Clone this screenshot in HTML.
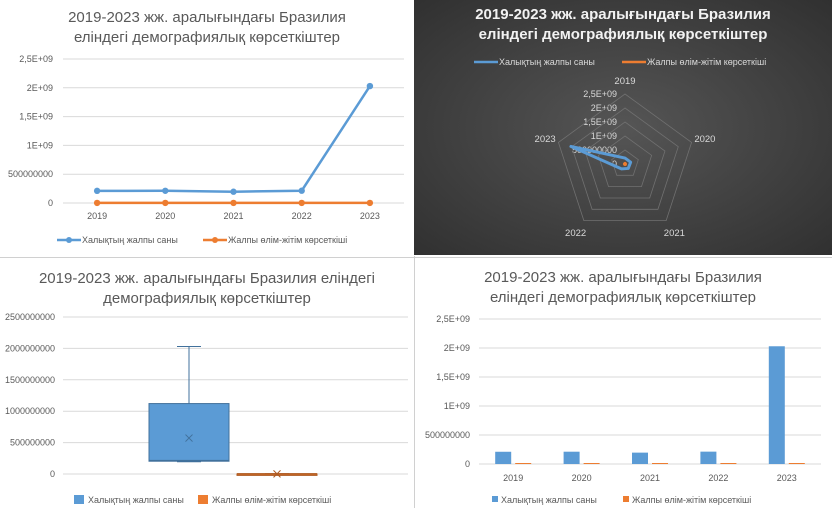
<!DOCTYPE html>
<html><head><meta charset="utf-8"><style>
body{margin:0;width:832px;height:508px;overflow:hidden;background:#fff}
svg{display:block;font-family:"Liberation Sans","DejaVu Sans",sans-serif}
</style></head><body>
<svg id="s" width="832" height="508" viewBox="0 0 832 508" xmlns="http://www.w3.org/2000/svg">
<defs>
<radialGradient id="dk" cx="50%" cy="50%" r="75%"><stop offset="0" stop-color="#555555"/><stop offset="1" stop-color="#2e2e2e"/></radialGradient>
</defs>
<rect x="0" y="0" width="414" height="256" fill="#fff"/>
<rect x="414" y="0" width="418" height="255" fill="url(#dk)"/>
<line x1="0" y1="257.5" x2="832" y2="257.5" stroke="#d0d0d0"/>
<line x1="414.5" y1="256" x2="414.5" y2="508" stroke="#d0d0d0"/>
<g fill="#595959" font-size="15" text-anchor="middle">
<text x="207" y="22">2019-2023 жж. аралығындағы Бразилия</text>
<text x="207" y="42">еліндегі демографиялық көрсеткіштер</text></g>
<g fill="#f2f2f2" font-size="15" font-weight="bold" text-anchor="middle">
<text x="623" y="19">2019-2023 жж. аралығындағы Бразилия</text>
<text x="623" y="39">еліндегі демографиялық көрсеткіштер</text></g>
<g fill="#595959" font-size="15" text-anchor="middle">
<text x="207" y="283">2019-2023 жж. аралығындағы Бразилия еліндегі</text>
<text x="207" y="303">демографиялық көрсеткіштер</text></g>
<g fill="#595959" font-size="15" text-anchor="middle">
<text x="623" y="282">2019-2023 жж. аралығындағы Бразилия</text>
<text x="623" y="302">еліндегі демографиялық көрсеткіштер</text></g>
<g id="g1"></g><g id="g2"></g><g id="g3"></g><g id="g4"></g>
</svg>
<script>
const years=['2019','2020','2021','2022','2023'];
const population=[211e6,212e6,196e6,213e6,2030e6];
const deaths=[1.4e6,1.5e6,1.8e6,1.5e6,1.5e6];
const sciTicks=['0','500000000','1E+09','1,5E+09','2E+09','2,5E+09'];
const plainTicks=['0','500000000','1000000000','1500000000','2000000000','2500000000'];
const tickVals=[0,5e8,1e9,1.5e9,2e9,2.5e9];
const NS='http://www.w3.org/2000/svg';
function mk(p,t,a,txt){const e=document.createElementNS(NS,t);for(const k in a)e.setAttribute(k,a[k]);if(txt!==undefined)e.textContent=txt;p.appendChild(e);return e;}
const BLUE='#5b9bd5',OR='#ed7d31';
// ---- line chart
(function(){
const g=document.getElementById('g1');
const x0=63,x1=404,y0=203,y1=59;
const y=v=>y0-(v/2.5e9)*(y0-y1);
const x=i=>x0+(i+0.5)*(x1-x0)/years.length;
tickVals.forEach((v,i)=>{const l=mk(g,'line',{x1:x0,x2:x1,y1:y(v),y2:y(v),stroke:'#d9d9d9'});

const t=mk(g,'text',{x:53,y:y(v)+3,'text-anchor':'end','font-size':9,fill:'#595959'},sciTicks[i]);
});
years.forEach((c,i)=>{const t=mk(g,'text',{x:x(i),y:219,'text-anchor':'middle','font-size':9,fill:'#595959'},c);
});
[[population,BLUE,'population'],[deaths,OR,'deaths']].forEach(([d,c,n])=>{
const p=mk(g,'polyline',{points:d.map((v,i)=>x(i)+','+y(v)).join(' '),fill:'none',stroke:c,'stroke-width':2.5});

d.forEach((v,i)=>{const m=mk(g,'circle',{cx:x(i),cy:y(v),r:3.2,fill:c});
});});
[[57,BLUE,'Халықтың жалпы саны'],[203,OR,'Жалпы өлім-жітім көрсеткіші']].forEach(([lx,c,s])=>{
const l=mk(g,'line',{x1:lx,x2:lx+24,y1:240,y2:240,stroke:c,'stroke-width':2.5});

mk(g,'circle',{cx:lx+12,cy:240,r:3,fill:c});
const t=mk(g,'text',{x:lx+25,y:243,'font-size':9,fill:'#595959'},s);
});
})();
// ---- radar chart
(function(){
const g=document.getElementById('g2');
const cx=625,cy=164,R=70;
const ang=i=>(-90+72*i)*Math.PI/180;
const pt=(i,r)=>[cx+r*Math.cos(ang(i)),cy+r*Math.sin(ang(i))];
tickVals.forEach((v,k)=>{if(v>0){const r=v/2.5e9*R;
const p=mk(g,'polygon',{points:years.map((_,i)=>pt(i,r).join(',')).join(' '),fill:'none',stroke:'#707070','stroke-width':0.8});
}
const t=mk(g,'text',{x:cx-8,y:cy-v/2.5e9*R+3,'text-anchor':'end','font-size':9,fill:'#d9d9d9'},sciTicks[k]);
});
years.forEach((c,i)=>{const [lx,ly]=pt(i,R+14);
const t=mk(g,'text',{x:lx,y:ly+4,'text-anchor':'middle','font-size':9.5,fill:'#d9d9d9'},c);
});
[[population,BLUE,'population'],[deaths,OR,'deaths']].forEach(([d,c,n])=>{
const p=mk(g,'polygon',{points:d.map((v,i)=>pt(i,v/2.5e9*R).join(',')).join(' '),fill:'none',stroke:c,'stroke-width':n=='deaths'?4:3,'stroke-linejoin':'round'});
});
[[474,BLUE,'Халықтың жалпы саны'],[622,OR,'Жалпы өлім-жітім көрсеткіші']].forEach(([lx,c,s])=>{
const l=mk(g,'line',{x1:lx,x2:lx+24,y1:62,y2:62,stroke:c,'stroke-width':2.5});

const t=mk(g,'text',{x:lx+25,y:65,'font-size':9,fill:'#d9d9d9'},s);
});
})();
// ---- box plot
(function(){
const g=document.getElementById('g3');
const x0=63,x1=408,y0=474,y1=317;
const y=v=>y0-(v/2.5e9)*(y0-y1);
tickVals.forEach((v,i)=>{const l=mk(g,'line',{x1:x0,x2:x1,y1:y(v),y2:y(v),stroke:'#d9d9d9'});

const t=mk(g,'text',{x:55,y:y(v)+3,'text-anchor':'end','font-size':9,fill:'#595959'},plainTicks[i]);
});
function stats(d){const s=[...d].sort((a,b)=>a-b),n=s.length;
const q=p=>{const r=p*(n+1)-1;const lo=Math.max(0,Math.min(n-1,Math.floor(r))),hi=Math.min(n-1,lo+1);return s[lo]+(r-lo)*(s[hi]-s[lo]);};
return {min:s[0],max:s[n-1],q1:q(.25),med:q(.5),q3:q(.75),mean:d.reduce((a,b)=>a+b,0)/n};}
[[population,BLUE,'#41719c',149,'population'],[deaths,OR,'#ae5a21',237,'deaths']].forEach(([d,c,sc,bx,n])=>{
const st=stats(d),w=80,mx=bx+w/2;
mk(g,'line',{x1:mx,x2:mx,y1:y(st.max),y2:y(st.q3),stroke:sc});
mk(g,'line',{x1:mx,x2:mx,y1:y(st.q1),y2:y(st.min),stroke:sc});
mk(g,'line',{x1:mx-12,x2:mx+12,y1:y(st.max),y2:y(st.max),stroke:sc});
mk(g,'line',{x1:mx-12,x2:mx+12,y1:y(st.min),y2:y(st.min),stroke:sc});
const r=mk(g,'rect',{x:bx,y:y(st.q3),width:w,height:Math.max(1.5,y(st.q1)-y(st.q3)),fill:c,stroke:sc});

mk(g,'line',{x1:bx,x2:bx+w,y1:y(st.med),y2:y(st.med),stroke:sc,'stroke-width':1.5});
const my=y(st.mean);
mk(g,'path',{d:`M${mx-3.5},${my-3.5}L${mx+3.5},${my+3.5}M${mx+3.5},${my-3.5}L${mx-3.5},${my+3.5}`,stroke:sc,'stroke-width':1});});
[[74,BLUE,'Халықтың жалпы саны'],[198,OR,'Жалпы өлім-жітім көрсеткіші']].forEach(([lx,c,s])=>{
const r=mk(g,'rect',{x:lx,y:495,width:10,height:9,fill:c});

const t=mk(g,'text',{x:lx+14,y:503,'font-size':9,fill:'#595959'},s);
});
})();
// ---- bar chart
(function(){
const g=document.getElementById('g4');
const x0=479,x1=821,y0=464,y1=319;
const y=v=>y0-(v/2.5e9)*(y0-y1);
const bw=(x1-x0)/years.length;
tickVals.forEach((v,i)=>{const l=mk(g,'line',{x1:x0,x2:x1,y1:y(v),y2:y(v),stroke:'#d9d9d9'});

const t=mk(g,'text',{x:470,y:y(v)+3,'text-anchor':'end','font-size':9,fill:'#595959'},sciTicks[i]);
});
years.forEach((c,i)=>{const cx=x0+(i+0.5)*bw;
const t=mk(g,'text',{x:cx,y:481,'text-anchor':'middle','font-size':9,fill:'#595959'},c);

const b1=mk(g,'rect',{x:cx-18,y:y(population[i]),width:16,height:y0-y(population[i]),fill:BLUE});

const b2=mk(g,'rect',{x:cx+2,y:Math.min(y(deaths[i]),y0-1),width:16,height:Math.max(1,y0-y(deaths[i])),fill:OR});
});
[[492,BLUE,'Халықтың жалпы саны'],[623,OR,'Жалпы өлім-жітім көрсеткіші']].forEach(([lx,c,s])=>{
const r=mk(g,'rect',{x:lx,y:496,width:6,height:6,fill:c});

const t=mk(g,'text',{x:lx+9,y:503,'font-size':9,fill:'#595959'},s);
});
})();
</script>
</body></html>
